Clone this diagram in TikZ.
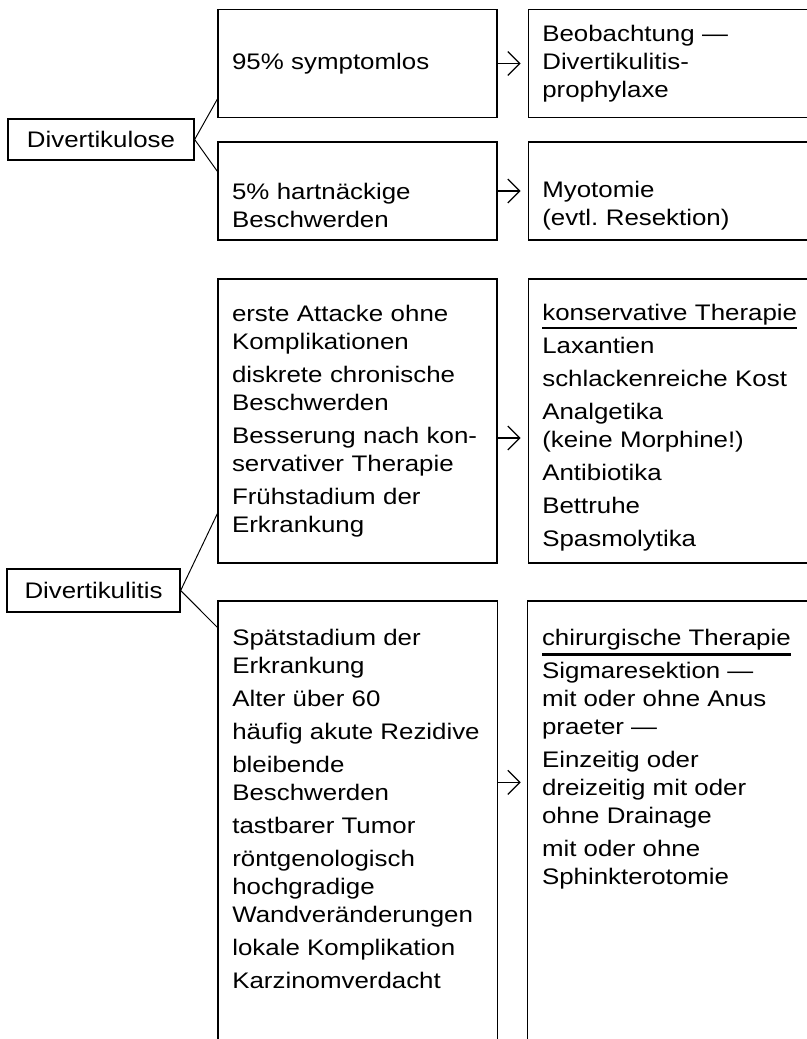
\documentclass[tikz,border=0pt]{standalone}
\usepackage{fontspec}
\setmainfont{Liberation Sans}[FakeStretch=1.15]
\usepackage{tikz}
\usetikzlibrary{positioning,arrows.meta}

\newsavebox{\headbox}
\newcommand{\headline}[3]{\leavevmode\sbox{\headbox}{#1}\rlap{\rule[#2]{\wd\headbox}{#3}}\usebox{\headbox}}
\frenchspacing

\begin{document}
\begin{tikzpicture}[
  font=\fontsize{12.8pt}{15.94pt}\selectfont,
  >={Straight Barb[length=0.24cm, width=0.48cm]},
  lbl/.style={draw, line width=0.75pt, inner sep=0pt, align=center},
  box/.style={draw, line width=0.75pt, inner xsep=0.28cm, inner ysep=0pt, text width=5.02cm, align=left},
  openbox/.style={inner xsep=0.28cm, inner ysep=0.55cm, anchor=north west},
  rim/.style={line width=0.75pt},
  con/.style={line width=0.55pt},
  arr/.style={->, line width=0.7pt, shorten >=0.14cm}]
\useasboundingbox (0,0) rectangle (16.14,-20.78);
% Divertikulose
\node[lbl, minimum width=3.72cm, minimum height=0.82cm] (dvose) at (2.02,-2.79) {Divertikulose};
\node[box, minimum height=2.16cm] (sym) at (7.15,-1.27) {95\% symptomlos};
\node[box, minimum height=2.16cm, right=0.6cm of sym] (beob) {Beobachtung —\\Divertikulitis-\\prophylaxe};
\node[box, minimum height=1.96cm, text height=0.92cm] (hart) at (7.15,-3.82) {5\% hartnäckige\\Beschwerden};
\node[box, minimum height=1.96cm, text height=0.92cm, right=0.6cm of hart] (myo) {Myotomie\\(evtl. Resektion)};
\draw[con] (dvose.east) -- ([yshift=0.38cm]sym.south west);
\draw[con] (dvose.east) -- ([yshift=-0.6cm]hart.north west);
\draw[arr] (sym) -- (beob);
\draw[arr] (hart) -- (myo);
% Divertikulitis
\node[lbl, minimum width=3.46cm, minimum height=0.86cm] (dvitis) at (1.87,-11.81) {Divertikulitis};
\node[box, minimum height=5.68cm] (frueh) at (7.15,-8.42) {erste Attacke ohne\\Komplikationen\\[0.1cm]diskrete chronische\\Beschwerden\\[0.1cm]Besserung nach kon-\\servativer Therapie\\[0.1cm]Frühstadium der\\Erkrankung};
\node[box, minimum height=5.68cm, text height=0.6cm, right=0.6cm of frueh] (kons) {\headline{konservative Therapie}{-4.55pt}{1.1pt}\\[0.1cm]Laxantien\\[0.1cm]schlackenreiche Kost\\[0.1cm]Analgetika\\(keine Morphine!)\\[0.1cm]Antibiotika\\[0.1cm]Bettruhe\\[0.1cm]Spasmolytika};
\node[openbox] (spaet) at (4.36,-12.02) {\parbox[t][7.66cm][t]{5.02cm}{\raggedright Spätstadium der\\Erkrankung\\[0.1cm]Alter über 60\\[0.1cm]häufig akute Rezidive\\[0.1cm]bleibende\\Beschwerden\\[0.1cm]tastbarer Tumor\\[0.1cm]röntgenologisch\\hochgradige\\Wandveränderungen\\[0.1cm]lokale Komplikation\\[0.1cm]Karzinomverdacht}};
\node[openbox, right=0.6cm of spaet] (chir) {\parbox[t][7.66cm][t]{5.02cm}{\raggedright \headline{chirurgische Therapie}{-5.95pt}{1.7pt}\\[0.1cm]Sigmaresektion —\\mit oder ohne Anus\\praeter —\\[0.1cm]Einzeitig oder\\dreizeitig mit oder\\ohne Drainage\\[0.1cm]mit oder ohne\\Sphinkterotomie}};
\draw[rim] (spaet.south west) |- (spaet.north east) -- (spaet.south east);
\draw[rim] (chir.south west) |- (chir.north east) -- (chir.south east);
\draw[con] (dvitis.east) -- ([yshift=1.0cm]frueh.south west);
\draw[con] (dvitis.east) -- ([yshift=-0.54cm]spaet.north west);
\draw[arr] ([yshift=-0.34cm]frueh.east) -- ([yshift=-0.34cm]kons.west);
\draw[arr] ([yshift=0.76cm]spaet.east) -- ([yshift=0.76cm]chir.west);
\end{tikzpicture}
\end{document}
